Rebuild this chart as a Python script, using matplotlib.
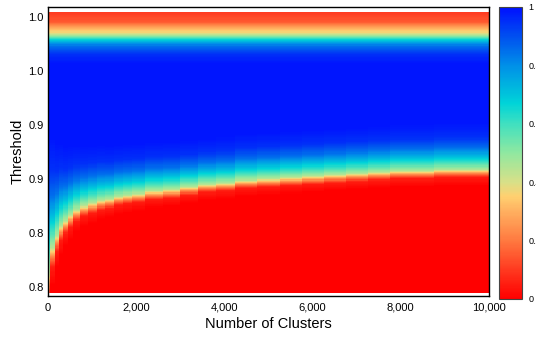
import numpy as np
import matplotlib
matplotlib.use('Agg')
import matplotlib.pyplot as plt
from matplotlib import rcParams
from matplotlib.colors import LinearSegmentedColormap
from matplotlib.ticker import FuncFormatter, FormatStrFormatter

rcParams['font.family'] = 'Liberation Sans'

# column centres (number of clusters)
clusters = [0, 100, 200, 300, 400, 500, 650, 800, 1000, 1200, 1400, 1600, 1800, 2000,
            2400, 2800, 3200, 3600, 4000, 4500, 5000, 5500, 6000, 6500, 7000, 7500,
            8000, 8500, 9000, 9500, 10000]
# threshold where the lower red->blue edge is half way (value 0.5)
lower_edge = [0.810, 0.829, 0.838, 0.845, 0.849, 0.853, 0.857, 0.860, 0.862, 0.864,
              0.865, 0.867, 0.868, 0.869, 0.871, 0.872, 0.874, 0.876, 0.877, 0.879,
              0.880, 0.881, 0.882, 0.883, 0.884, 0.885, 0.886, 0.886, 0.887, 0.887, 0.887]
# how spread out that edge is (wider near zero clusters)
edge_spread = [3.0, 2.4, 2.0, 1.8, 1.6, 1.5, 1.4, 1.3, 1.25, 1.2, 1.15, 1.12, 1.1, 1.08,
               1.06, 1.04, 1.02, 1.0, 1.0, 1.0, 1.0, 1.0, 1.0, 1.0, 1.0, 1.0,
               1.0, 1.0, 1.0, 1.0, 1.0]

# shape of the lower edge: offset from edge -> value
lower_offsets = [-0.012, -0.006, -0.003, 0.0, 0.005, 0.010, 0.016, 0.024, 0.034]
lower_values = [0.0, 0.05, 0.22, 0.45, 0.60, 0.72, 0.85, 0.95, 0.99]

# top band: threshold -> value
top_thresholds = [0.966, 0.9725, 0.979, 0.9835, 0.9868, 0.9893, 0.9935, 0.9968, 1.004]
top_values = [0.99, 0.95, 0.85, 0.67, 0.47, 0.36, 0.25, 0.15, 0.10]

# colour bar stops
cmap_stops = [0.0, 0.1, 0.2, 0.3, 0.35, 0.4, 0.5, 0.6, 0.67, 0.8, 0.9, 1.0]
cmap_colors = ['#ff0000', '#ff3a20', '#ff7a40', '#ffb060', '#ffd070', '#d8e088',
               '#90e8a0', '#40e0c0', '#00d4d8', '#0090e8', '#0050f0', '#0010ff']
cmap = LinearSegmentedColormap.from_list('thr', list(zip(cmap_stops, cmap_colors)))

y_lo, y_hi = 0.7956, 1.0037
thr = np.linspace(y_lo, y_hi, 260)
grid = np.zeros((len(thr), len(clusters)))
for j in range(len(clusters)):
    lo = np.interp((thr - lower_edge[j]) / edge_spread[j], lower_offsets, lower_values)
    hi = np.interp(thr, top_thresholds, top_values)
    grid[:, j] = np.minimum(lo, hi)

cl = np.array(clusters, dtype=float)
x_edges = np.concatenate([[0], (cl[:-1] + cl[1:]) / 2, [10000]])
y_edges = np.linspace(y_lo, y_hi, len(thr) + 1)

fig = plt.figure(figsize=(5.36, 3.39), dpi=100)
ax = fig.add_axes([48 / 536, 1 - 296 / 339, 441 / 536, 289 / 339])
cax = fig.add_axes([499 / 536, 1 - 299 / 339, 23 / 536, 292 / 339])

mesh = ax.pcolormesh(x_edges, y_edges, grid, cmap=cmap, vmin=0, vmax=1, shading='flat')
ax.set_xlim(0, 10000)
ax.set_ylim(0.80 - 9 / 1350, 1.00 + 10 / 1350)
ax.set_xticks([0, 2000, 4000, 6000, 8000, 10000])
ax.xaxis.set_major_formatter(FuncFormatter(lambda v, p: f'{int(v):,}'))
ax.set_yticks([0.80, 0.84, 0.88, 0.92, 0.96, 1.00])
ax.yaxis.set_major_formatter(FormatStrFormatter('%.1f'))
ax.tick_params(axis='x', length=0, pad=5, labelsize=8)
ax.tick_params(axis='y', length=0, pad=3, labelsize=8)
for s in ax.spines.values():
    s.set_linewidth(1.0)
ax.set_xlabel('Number of Clusters', fontsize=10.5, labelpad=3)
ax.set_ylabel('Threshold', fontsize=10.5, labelpad=3)

cb = fig.colorbar(mesh, cax=cax)
cb.set_ticks([0, 0.2, 0.4, 0.6, 0.8, 1])
cb.ax.yaxis.set_major_formatter(FuncFormatter(lambda v, p: f'{v:g}'))
cb.ax.tick_params(length=0, pad=4.5, labelsize=6.5)
cb.outline.set_linewidth(0.8)
cb.outline.set_edgecolor('#444444')

plt.savefig('out.png', dpi=100)
